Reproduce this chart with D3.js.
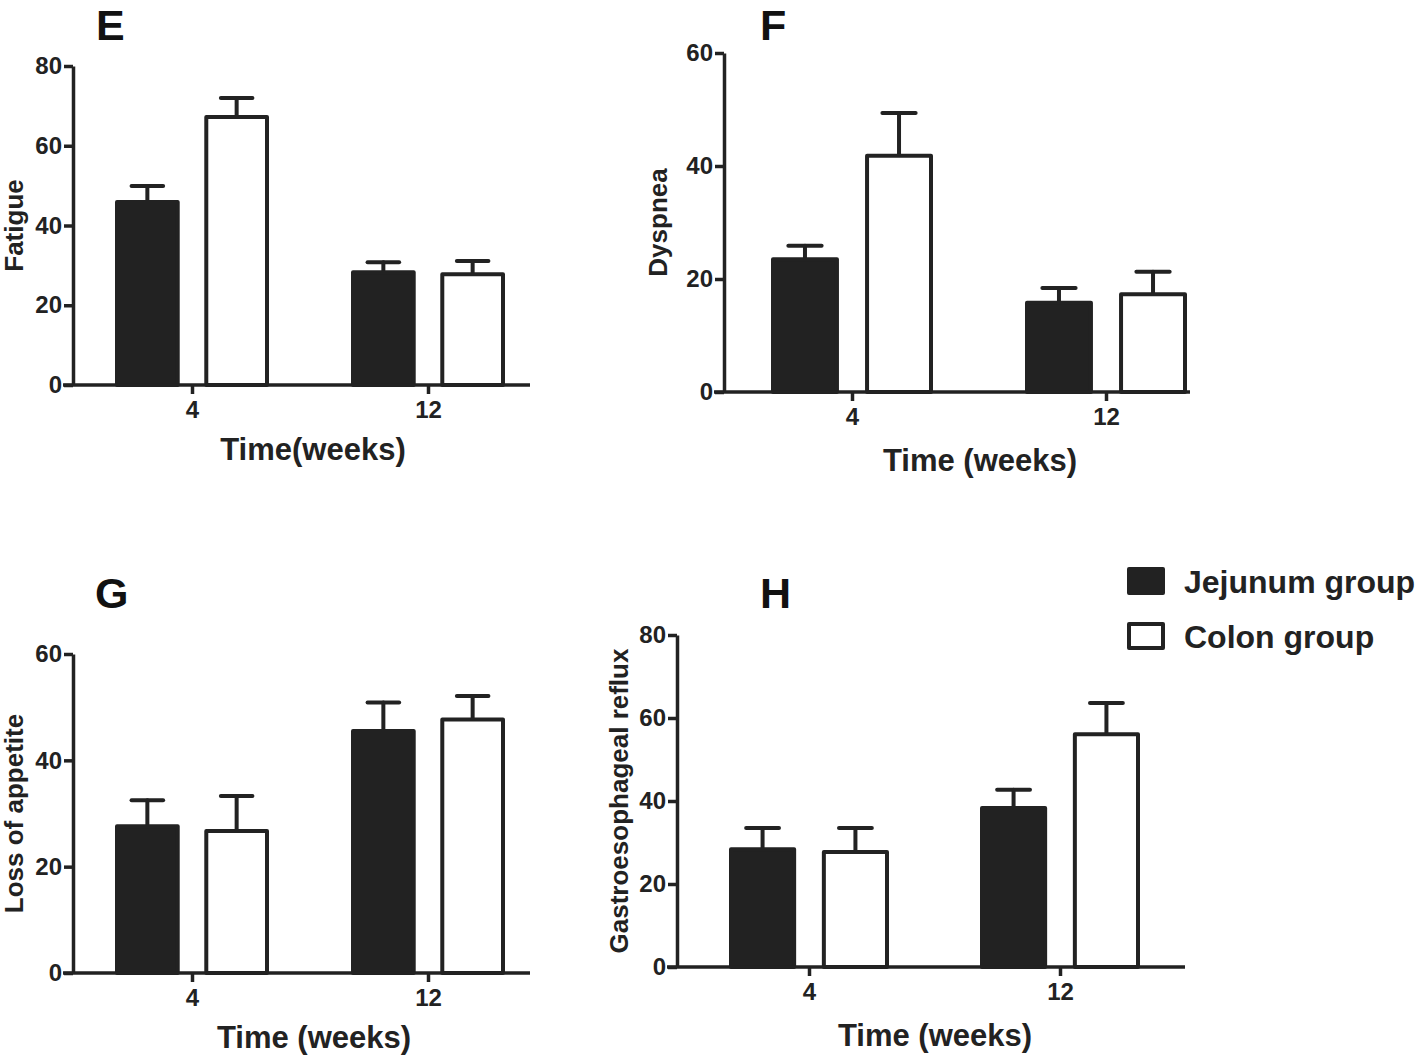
<!DOCTYPE html>
<html>
<head>
<meta charset="utf-8">
<script src="https://cdn.jsdelivr.net/npm/d3@7"></script>
<style>
  html, body { margin: 0; padding: 0; background: #fff; }
  svg { display: block; font-family: "Liberation Sans", Arial, Helvetica, sans-serif; }
</style>
</head>
<body>
<svg id="chart" width="1418" height="1056"></svg>
<script>
// ---------------- data ----------------
const timepoints = ["4", "12"];
const groups = ["Jejunum group", "Colon group"];

const fatigueJejunum   = [45.9, 28.3];
const fatigueJejunumSE = [4.0, 2.5];
const fatigueColon     = [67.2, 27.8];
const fatigueColonSE   = [4.8, 3.3];

const dyspneaJejunum   = [23.5, 15.8];
const dyspneaJejunumSE = [2.4, 2.6];
const dyspneaColon     = [41.8, 17.3];
const dyspneaColonSE   = [7.6, 4.0];

const appetiteJejunum   = [27.6, 45.5];
const appetiteJejunumSE = [4.9, 5.4];
const appetiteColon     = [26.7, 47.7];
const appetiteColonSE   = [6.6, 4.4];

const refluxJejunum   = [28.4, 38.3];
const refluxJejunumSE = [5.1, 4.4];
const refluxColon     = [27.7, 56.1];
const refluxColonSE   = [5.8, 7.5];

const ticks80 = [0, 20, 40, 60, 80];
const ticks60 = [0, 20, 40, 60];

// ---------------- layout ----------------
const INK = "#222";
const svg = d3.select("#chart");

const panels = [
  { letter: "E", letterX: 96, letterY: 40, letterSize: 43,
    yLabel: "Fatigue", yLabelX: 23, xLabel: "Time(weeks)", xLabelX: 313, xLabelY: 460,
    axisX: 73, xEnd: 530, yBottom: 385, yTop: 66, yMax: 80, ticks: ticks80,
    cx: [192, 428], half: 75,
    jej: fatigueJejunum, jejSE: fatigueJejunumSE, col: fatigueColon, colSE: fatigueColonSE },
  { letter: "F", letterX: 760, letterY: 40, letterSize: 43,
    yLabel: "Dyspnea", yLabelX: 667, xLabel: "Time (weeks)", xLabelX: 980, xLabelY: 471,
    axisX: 724, xEnd: 1190, yBottom: 392, yTop: 53, yMax: 60, ticks: ticks60,
    cx: [852, 1106], half: 79,
    jej: dyspneaJejunum, jejSE: dyspneaJejunumSE, col: dyspneaColon, colSE: dyspneaColonSE },
  { letter: "G", letterX: 95, letterY: 608, letterSize: 43,
    yLabel: "Loss of appetite", yLabelX: 23, xLabel: "Time (weeks)", xLabelX: 314, xLabelY: 1048,
    axisX: 73, xEnd: 530, yBottom: 973, yTop: 654, yMax: 60, ticks: ticks60,
    cx: [192, 428], half: 75,
    jej: appetiteJejunum, jejSE: appetiteJejunumSE, col: appetiteColon, colSE: appetiteColonSE },
  { letter: "H", letterX: 760, letterY: 608, letterSize: 43,
    yLabel: "Gastroesophageal reflux", yLabelX: 628, xLabel: "Time (weeks)", xLabelX: 935, xLabelY: 1046,
    axisX: 677, xEnd: 1185, yBottom: 967, yTop: 635, yMax: 80, ticks: ticks80,
    cx: [809, 1060], half: 78,
    jej: refluxJejunum, jejSE: refluxJejunumSE, col: refluxColon, colSE: refluxColonSE }
];

function drawPanel(p) {
  const g = svg.append("g");

  const y = d3.scaleLinear().domain([0, p.yMax]).range([p.yBottom, p.yTop]);
  const x = d3.scalePoint().domain(timepoints).range(p.cx);
  const xs = d3.scaleBand().domain(groups).range([-p.half, p.half]).paddingInner(0.32);

  const rows = [];
  timepoints.forEach((t, i) => {
    rows.push({ t, grp: groups[0], v: p.jej[i], se: p.jejSE[i] });
    rows.push({ t, grp: groups[1], v: p.col[i], se: p.colSE[i] });
  });

  // error bars (drawn first, bar covers lower part)
  const eb = g.append("g").attr("stroke", INK).attr("stroke-width", 4).attr("stroke-linecap", "round");
  rows.forEach(d => {
    const cx = x(d.t) + xs(d.grp) + xs.bandwidth() / 2;
    eb.append("line").attr("x1", cx).attr("x2", cx).attr("y1", y(d.v)).attr("y2", y(d.v + d.se));
    const cw = xs.bandwidth() * 0.26;
    eb.append("line").attr("x1", cx - cw).attr("x2", cx + cw).attr("y1", y(d.v + d.se)).attr("y2", y(d.v + d.se));
  });

  // bars
  g.append("g").selectAll("rect").data(rows).join("rect")
    .attr("x", d => x(d.t) + xs(d.grp))
    .attr("width", xs.bandwidth())
    .attr("y", d => y(d.v))
    .attr("height", d => y(0) - y(d.v))
    .attr("fill", d => d.grp === groups[0] ? INK : "#fff")
    .attr("stroke", INK)
    .attr("stroke-width", 4)
    .attr("stroke-linejoin", "round");

  // y axis
  const ya = g.append("g").attr("transform", `translate(${p.axisX},0)`)
    .call(d3.axisLeft(y).tickValues(p.ticks).tickSize(9).tickSizeOuter(0).tickPadding(2));
  ya.select(".domain").attr("stroke", INK).attr("stroke-width", 3.5);
  ya.selectAll(".tick line").attr("stroke", INK).attr("stroke-width", 3.5);
  ya.selectAll(".tick text").attr("fill", INK).attr("font-size", 24).attr("font-weight", "bold")
    .attr("font-family", "Liberation Sans, Arial, sans-serif");

  // x axis
  const xa = g.append("g").attr("transform", `translate(0,${p.yBottom})`)
    .call(d3.axisBottom(x).tickSize(9).tickSizeOuter(0).tickPadding(7));
  xa.select(".domain").remove();
  xa.append("line").attr("x1", p.axisX - 10).attr("x2", p.xEnd).attr("y1", 0).attr("y2", 0)
    .attr("stroke", INK).attr("stroke-width", 3.5);
  xa.selectAll(".tick line").attr("stroke", INK).attr("stroke-width", 3.5);
  xa.selectAll(".tick text").attr("fill", INK).attr("font-size", 24).attr("font-weight", "bold")
    .attr("font-family", "Liberation Sans, Arial, sans-serif");

  // axis titles
  g.append("text")
    .attr("transform", `translate(${p.yLabelX},${(p.yTop + p.yBottom) / 2}) rotate(-90)`)
    .attr("text-anchor", "middle").attr("fill", INK)
    .attr("font-size", 26).attr("font-weight", "bold").text(p.yLabel);
  g.append("text").attr("x", p.xLabelX).attr("y", p.xLabelY)
    .attr("text-anchor", "middle").attr("fill", INK)
    .attr("font-size", 31).attr("font-weight", "bold").text(p.xLabel);

  // panel letter
  g.append("text").attr("x", p.letterX).attr("y", p.letterY)
    .attr("fill", "#111").attr("font-size", p.letterSize).attr("font-weight", "bold").text(p.letter);
}

panels.forEach(drawPanel);

// legend
const lg = svg.append("g");
groups.forEach((name, i) => {
  const yy = 569 + i * 55;
  lg.append("rect").attr("x", 1129).attr("y", yy).attr("width", 34).attr("height", 24)
    .attr("fill", i === 0 ? INK : "#fff").attr("stroke", INK).attr("stroke-width", 4)
    .attr("stroke-linejoin", "round");
  lg.append("text").attr("x", 1184).attr("y", yy + 24).attr("fill", INK)
    .attr("font-size", 32).attr("font-weight", "bold").text(name);
});
</script>
</body>
</html>
